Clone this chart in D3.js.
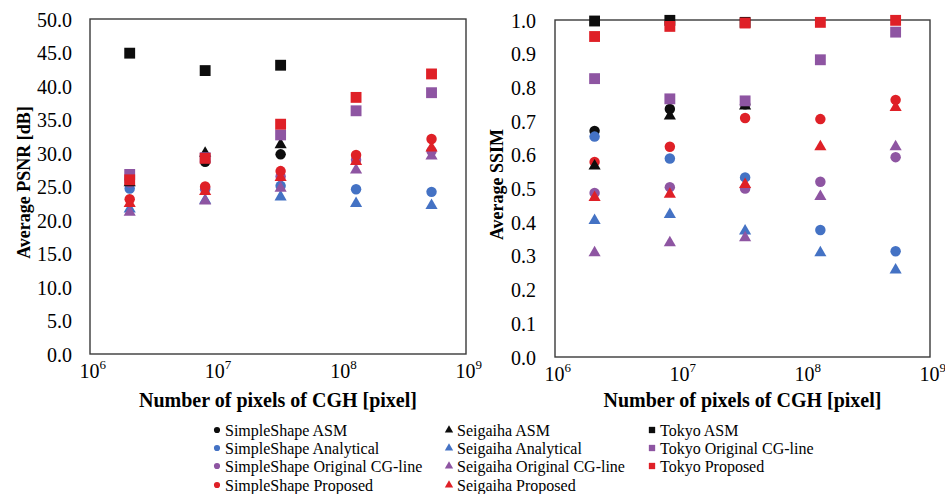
<!DOCTYPE html>
<html><head><meta charset="utf-8">
<script src="https://cdn.jsdelivr.net/npm/d3@7"></script>
<style>body{margin:0;background:#fff}svg{display:block}text{font-family:"Liberation Serif","Times New Roman",serif;fill:#000}</style>
</head><body><div id="chart"></div>
<script>
// ---- data ----
const pixels = [2073600, 8294400, 33177600, 132710400, 530841600];
const xTicks = [1e6, 1e7, 1e8, 1e9];
const xTickExp = ["6", "7", "8", "9"];
const psnrTicks = [0,5,10,15,20,25,30,35,40,45,50];
const ssimTicks = [0,0.1,0.2,0.3,0.4,0.5,0.6,0.7,0.8,0.9,1.0];

const seriesNames = ["SimpleShape ASM","SimpleShape Analytical","SimpleShape Original CG-line","SimpleShape Proposed",
  "Seigaiha ASM","Seigaiha Analytical","Seigaiha Original CG-line","Seigaiha Proposed",
  "Tokyo ASM","Tokyo Original CG-line","Tokyo Proposed"];
const seriesShapes = ["circle","circle","circle","circle","triangle","triangle","triangle","triangle","square","square","square"];
const seriesColors = ["#0d0d0d","#4472C4","#8E55A2","#DF2027","#0d0d0d","#4472C4","#8E55A2","#DF2027","#0d0d0d","#8E55A2","#DF2027"];

// PSNR [dB]
const psnrSimpleShapeASM        = [26.0, 28.7, 29.8, null, null];
const psnrSimpleShapeAnalytical = [24.7, 24.6, 25.1, 24.6, 24.2];
const psnrSimpleShapeOriginal   = [25.6, 24.8, 26.5, 29.0, 30.3];
const psnrSimpleShapeProposed   = [23.1, 25.0, 27.3, 29.7, 32.1];
const psnrSeigaihaASM           = [25.7, 30.1, 31.4, null, null];
const psnrSeigaihaAnalytical    = [21.8, 23.1, 23.6, 22.6, 22.3];
const psnrSeigaihaOriginal      = [21.3, 23.0, 24.9, 27.6, 29.7];
const psnrSeigaihaProposed      = [22.6, 24.4, 26.5, 28.9, 30.9];
const psnrTokyoASM              = [44.9, 42.3, 43.1, null, null];
const psnrTokyoOriginal         = [26.8, 29.3, 32.7, 36.3, 39.0];
const psnrTokyoProposed         = [26.0, 29.2, 34.3, 38.3, 41.8];

// SSIM
const ssimSimpleShapeASM        = [0.671, 0.736, 0.750, null, null];
const ssimSimpleShapeAnalytical = [0.654, 0.589, 0.533, 0.377, 0.314];
const ssimSimpleShapeOriginal   = [0.487, 0.504, 0.500, 0.520, 0.593];
const ssimSimpleShapeProposed   = [0.579, 0.624, 0.709, 0.706, 0.763];
const ssimSeigaihaASM           = [0.570, 0.718, 0.748, null, null];
const ssimSeigaihaAnalytical    = [0.408, 0.426, 0.377, 0.312, 0.261];
const ssimSeigaihaOriginal      = [0.312, 0.342, 0.357, 0.479, 0.627];
const ssimSeigaihaProposed      = [0.476, 0.486, 0.515, 0.627, 0.743];
const ssimTokyoASM              = [0.997, 0.999, 0.993, null, null];
const ssimTokyoOriginal         = [0.826, 0.766, 0.760, 0.882, 0.964];
const ssimTokyoProposed         = [0.951, 0.981, 0.991, 0.993, 0.999];

const psnrSeries = [psnrSimpleShapeASM, psnrSimpleShapeAnalytical, psnrSimpleShapeOriginal, psnrSimpleShapeProposed,
  psnrSeigaihaASM, psnrSeigaihaAnalytical, psnrSeigaihaOriginal, psnrSeigaihaProposed,
  psnrTokyoASM, psnrTokyoOriginal, psnrTokyoProposed];
const ssimSeries = [ssimSimpleShapeASM, ssimSimpleShapeAnalytical, ssimSimpleShapeOriginal, ssimSimpleShapeProposed,
  ssimSeigaihaASM, ssimSeigaihaAnalytical, ssimSeigaihaOriginal, ssimSeigaihaProposed,
  ssimTokyoASM, ssimTokyoOriginal, ssimTokyoProposed];

// ---- drawing ----
const W = 945, H = 494;
const svg = d3.select("#chart").append("svg").attr("width", W).attr("height", H);
svg.append("rect").attr("width", W).attr("height", H).attr("fill", "#fff");

function symbolPath(shape, size) {
  const t = shape === "circle" ? d3.symbolCircle : shape === "triangle" ? d3.symbolTriangle : d3.symbolSquare;
  return d3.symbol().type(t).size(size)();
}
const markSize = {circle: 86, triangle: 64, square: 118};

function panel(opts) {
  const {left, right, top, bottom, yDomain, yTicks, yFmt, series, yTitle, yTitleX} = opts;
  const x = d3.scaleLog().domain([1e6, 1e9]).range([left, right]);
  const y = d3.scaleLinear().domain(yDomain).range([bottom, top]);
  const g = svg.append("g");

  // y axis labels
  const ya = g.append("g").attr("transform", `translate(${left},0)`)
    .call(d3.axisLeft(y).tickValues(yTicks).tickSize(0).tickPadding(opts.yLabelGap).tickFormat(yFmt));
  ya.select(".domain").remove();
  ya.selectAll("text").attr("dy", null).attr("y", 7)
    .style("font-size", "20px").attr("fill", "#000");

  // x axis labels (10^n)
  const xa = g.append("g").attr("transform", `translate(0,${bottom})`)
    .call(d3.axisBottom(x).tickValues(xTicks).tickSize(0).tickFormat(""));
  xa.select(".domain").remove();
  xa.selectAll(".tick").append("text")
    .attr("x", -11).attr("y", 24)
    .attr("text-anchor", "start").style("font-size", "20px").attr("fill", "#000")
    .each(function(d, i) {
      const t = d3.select(this);
      t.append("tspan").text("10");
      t.append("tspan").attr("dy", -9).style("font-size", "13px").text(xTickExp[i]);
    });

  // frame
  g.append("rect").attr("x", left).attr("y", top).attr("width", right - left).attr("height", bottom - top)
    .attr("fill", "none").attr("stroke", "#3a3a3a").attr("stroke-width", 1.4);

  // marks
  series.forEach((vals, si) => {
    const pts = vals.map((v, i) => ({x: pixels[i], v})).filter(p => p.v !== null);
    g.append("g").selectAll("path").data(pts).join("path")
      .attr("d", symbolPath(seriesShapes[si], markSize[seriesShapes[si]]))
      .attr("transform", p => `translate(${x(p.x)},${y(p.v) + (seriesShapes[si] === "triangle" ? 1 : 0)})`)
      .attr("fill", seriesColors[si]);
  });

  // titles
  g.append("text").attr("x", (left + right) / 2).attr("y", 407)
    .attr("text-anchor", "middle").style("font-size", "20px").style("font-weight", "bold")
    .text("Number of pixels of CGH [pixel]");
  g.append("text").attr("transform", `translate(${yTitleX},${(top + bottom) / 2 - 4}) rotate(-90)`)
    .attr("text-anchor", "middle").style("font-size", "18px").style("font-weight", "bold")
    .text(yTitle);
}

panel({left: 90, right: 466, top: 19, bottom: 354, yDomain: [0, 50], yTicks: psnrTicks,
  yFmt: d3.format(".1f"), series: psnrSeries, yTitle: "Average PSNR [dB]", yTitleX: 30, yLabelGap: 18});
panel({left: 555, right: 930, top: 20, bottom: 357, yDomain: [0, 1], yTicks: ssimTicks,
  yFmt: d3.format(".1f"), series: ssimSeries, yTitle: "Average SSIM", yTitleX: 503, yLabelGap: 19});

// legend
const legCols = [217, 449, 652];
const legRows = [430, 448, 466, 485];
const legendIdx = [[0,1,2,3],[4,5,6,7],[8,9,10]];
const lg = svg.append("g");
legendIdx.forEach((col, ci) => col.forEach((si, ri) => {
  const cx = legCols[ci], cy = legRows[ri];
  lg.append("path").attr("d", symbolPath(seriesShapes[si], seriesShapes[si] === "square" ? 40 : 30))
    .attr("transform", `translate(${cx},${cy})`).attr("fill", seriesColors[si]);
  lg.append("text").attr("x", cx + 8).attr("y", cy + 5.5)
    .style("font-size", "16px").text(seriesNames[si]);
}));
</script></body></html>
